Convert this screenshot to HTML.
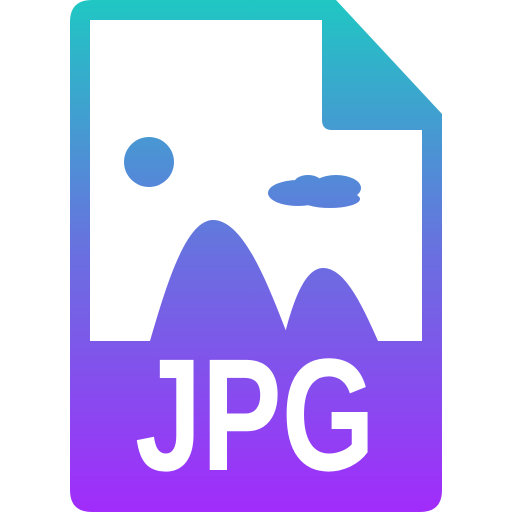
<!DOCTYPE html>
<html>
<head>
<meta charset="utf-8">
<style>
  html,body{margin:0;padding:0;background:#fff;width:512px;height:512px;overflow:hidden;}
  svg{display:block;}
</style>
</head>
<body>
<svg width="512" height="512" viewBox="0 0 512 512">
  <defs>
    <linearGradient id="g" x1="0" y1="0" x2="0" y2="512" gradientUnits="userSpaceOnUse">
      <stop offset="0" stop-color="#1fc7c3"/>
      <stop offset="0.5" stop-color="#6a6fe0"/>
      <stop offset="1" stop-color="#a12cfb"/>
    </linearGradient>
  </defs>
  <path fill="url(#g)"
    d="M92,0 L336,0 L442,114 L442,490 Q442,512 420,512 L92,512 Q70,512 70,490 L70,22 Q70,0 92,0 Z"/>
  <path fill="#fff"
    d="M90,20 L322,20 L322,120 Q322,130 332,130 L422,130 L422,341 L90,341 Z"/>
  <circle cx="149" cy="162" r="25" fill="url(#g)"/>
  <g fill="url(#g)">
    <ellipse cx="298" cy="193" rx="30" ry="13"/>
    <ellipse cx="336" cy="188" rx="25" ry="13"/>
    <ellipse cx="330" cy="199" rx="30" ry="9"/>
    <ellipse cx="308" cy="183" rx="14" ry="8"/>
  </g>
  <path fill="url(#g)"
    d="M150,341 C165,290 185,220 213,220 C245,220 270,290 290,341 Z"/>
  <path fill="url(#g)"
    d="M283,341 C293,300 305,268 323,268 C345,268 362,305 378,341 Z"/>
  <text x="135" y="470" textLength="240" lengthAdjust="spacingAndGlyphs"
    font-family="Liberation Sans, sans-serif" font-weight="bold" font-size="160" fill="#fff">JPG</text>
</svg>
</body>
</html>
